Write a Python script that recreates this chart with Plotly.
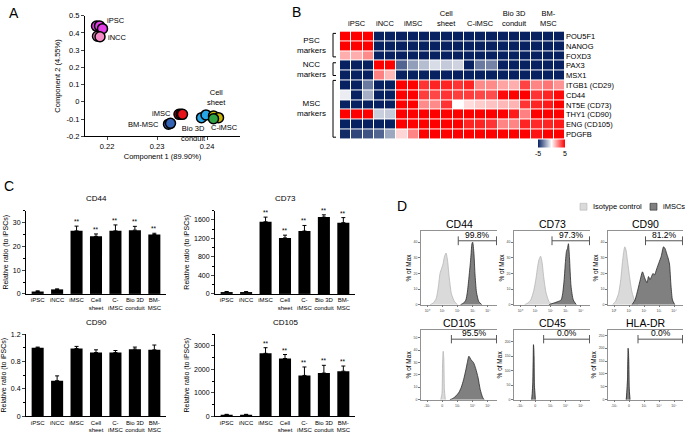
import plotly.graph_objects as go

W, H = 685, 437
FONT = "Liberation Sans, Arial, sans-serif"

# ---------------- Panel A : PCA ----------------
pc1_ipsc = [0.2179, 0.2185, 0.2191]
pc2_ipsc = [0.440, 0.441, 0.425]
pc1_incc = [0.2181, 0.2186]
pc2_incc = [0.381, 0.378]
pc1_imsc = [0.2344, 0.2348, 0.2351]
pc2_imsc = [-0.073, -0.072, -0.073]
pc1_bmmsc = [0.2323, 0.2327]
pc2_bmmsc = [-0.130, -0.125]
pc1_bio3d = [0.2389, 0.2398]
pc2_bio3d = [-0.092, -0.076]
pc1_sheet = [0.2413, 0.2423]
pc2_sheet = [-0.082, -0.092]
pc1_cimsc = [0.2413]
pc2_cimsc = [-0.098]

# ---------------- Panel B : heatmap ----------------
hm_genes = ["POU5F1", "NANOG", "FOXD3", "PAX3", "MSX1", "ITGB1 (CD29)", "CD44",
            "NT5E (CD73)", "THY1 (CD90)", "ENG (CD105)", "PDGFB"]
hm_groups = ["iPSC", "iNCC", "iMSC", "Cell<br>sheet", "C-iMSC", "Bio 3D<br>conduit", "BM-<br>MSC"]
hm_group_sizes = [3, 2, 3, 3, 3, 3, 3]
hm_pou5f1 = [5, 5, 5, -5, -5, -5, -5, -5, -5, -5, -5, -5, -5, -5, -5, -5, -5, -5, -5, -5]
hm_nanog = [5, 5, 5, -5, -5, -5, -5, -5, -5, -5, -5, -5, -5, -5, -5, -5, -5, -5, -5, -5]
hm_foxd3 = [1.6, 1.6, 2.3, -5, -5, -5, -5, -5, -5, -5, -5, -5, -5, -5, -5, -5, -5, -5, -5, -5]
hm_pax3 = [-5, -5, -5, 5, 5, -3.5, -2.2, -1.5, -0.8, -1.2, -1.0, -5, -3.0, -2.8, -5, -5, -5, -5, -5, -5]
hm_msx1 = [-5, -5, -5, 2.5, 1.4, -5, -5, -5, -5, -5, -5, -5, -5, -5, -5, -5, -5, -5, -5, -5]
hm_itgb1 = [-5, -5, -3, -5, -5, 5, 5, 4, 4.3, 4.3, 4, 4.3, 2.3, 2.3, 1.8, 1.6, 3.7, 2.4, 2.7, 2.1]
hm_cd44 = [-0.4, -5, -1.8, -5, -5, 5, 5, 3.8, 3.6, 4, 3.8, 3.8, 3.6, 3.5, 4.8, 5, 5, 4, 4.3, 4.8]
hm_nt5e = [-5, -5, -5, -5, -5, 5, 5, 2.3, 2.3, 4, 0, 0.7, 1.0, 1.2, 1.4, 1.5, 4, 4.3, 4.5, 5]
hm_thy1 = [5, 5, 5, -1.1, -1.2, 5, 5, 5, 5, 5, 5, 5, 5, 5, 5, 4.5, 2.5, 5, 5, 5]
hm_eng = [-5, -5, -5, -5, -5, 5, 5, 5, 5, 5, 5, 4.3, 4.3, 4, 2.4, 2.4, 4.3, 4.2, 4.3, 4.5]
hm_pdgfb = [-4.8, -4.2, -3.9, -3.5, -2.0, 0.8, 2.4, 5, 5, 5, 5, 5, 5, 5, 5, 5, 5, 4.6, 5, 5]

# ---------------- Panel C : bar charts ----------------
bar_cats = ["iPSC", "iNCC", "iMSC", "Cell<br>sheet", "C-<br>iMSC", "Bio 3D<br>conduit", "BM-<br>MSC"]
cd44_mean = [1.0, 1.9, 26.5, 24.2, 26.5, 26.8, 25.0]
cd44_err = [0.3, 0.2, 2.0, 1.0, 2.5, 1.6, 0.5]
cd73_mean = [40, 40, 1560, 1210, 1360, 1660, 1540]
cd73_err = [12, 10, 100, 60, 120, 50, 110]
cd90_mean = [1.00, 0.52, 0.99, 0.93, 0.93, 0.98, 0.97]
cd90_err = [0.01, 0.07, 0.03, 0.04, 0.03, 0.03, 0.07]
cd105_mean = [70, 70, 2680, 2460, 1740, 1840, 1920]
cd105_err = [15, 15, 240, 170, 360, 330, 220]

# ---------------- Panel D : flow histograms ----------------
iso_cd44_x = [0.6, 0.8, 1.0, 1.15, 1.25, 1.35, 1.45, 1.55, 1.65, 1.75, 1.85, 2.0, 2.2, 2.4]
iso_cd44_y = [0, 1, 4, 12, 20, 23, 26, 31, 33, 28, 18, 7, 2, 0]
ims_cd44_x = [2.6, 2.8, 2.95, 3.05, 3.15, 3.25, 3.3, 3.35, 3.4, 3.48, 3.55, 3.65, 3.8, 4.0]
ims_cd44_y = [0, 1, 3, 8, 17, 27, 33, 39, 40, 33, 20, 8, 2, 0]
iso_cd73_x = [0.7, 0.9, 1.1, 1.3, 1.45, 1.55, 1.65, 1.75, 1.85, 1.95, 2.1, 2.3, 2.5]
iso_cd73_y = [0, 1, 3, 9, 17, 24, 29, 31, 27, 18, 8, 2, 0]
ims_cd73_x = [2.3, 2.6, 2.9, 3.1, 3.2, 3.3, 3.38, 3.45, 3.52, 3.58, 3.65, 3.75, 3.9, 4.1]
ims_cd73_y = [0, 1, 2, 3, 7, 16, 27, 34, 36, 39, 30, 12, 3, 0]
iso_cd90_x = [0.3, 0.5, 0.7, 0.85, 0.95, 1.05, 1.12, 1.2, 1.3, 1.45, 1.6, 1.8, 2.0]
iso_cd90_y = [0, 2, 7, 16, 26, 34, 37, 35, 28, 17, 8, 2, 0]
ims_cd90_x = [1.6, 1.8, 2.0, 2.15, 2.3, 2.45, 2.6, 2.7, 2.8, 2.9, 3.0, 3.1, 3.25, 3.4, 3.55,
              3.7, 3.8, 3.9, 4.0, 4.1, 4.2, 4.3, 4.45]
ims_cd90_y = [0, 3, 10, 16, 21, 17, 14, 18, 16, 18, 20, 19, 23, 27, 31, 37, 36, 33, 30, 26, 12, 3, 0]
iso_cd105_x = [1.3, 1.38, 1.42, 1.46, 1.5, 1.54, 1.6]
iso_cd105_y = [0, 5, 30, 39, 33, 8, 0]
ims_cd105_x = [1.9, 2.1, 2.3, 2.5, 2.65, 2.8, 2.95, 3.05, 3.15, 3.3, 3.45, 3.6, 3.75, 3.9, 4.05, 4.15]
ims_cd105_y = [0, 1, 3, 6, 10, 16, 24, 30, 35, 32, 30, 25, 18, 8, 2, 0]
iso_cd45_x = [1.15, 1.22, 1.27, 1.31, 1.36, 1.42]
iso_cd45_y = [0, 20, 120, 150, 40, 0]
ims_cd45_x = [1.17, 1.24, 1.28, 1.31, 1.34, 1.4]
ims_cd45_y = [0, 60, 190, 170, 50, 0]
iso_hla_x = [1.2, 1.28, 1.33, 1.37, 1.42, 1.48]
iso_hla_y = [0, 30, 140, 160, 40, 0]
ims_hla_x = [1.22, 1.3, 1.34, 1.37, 1.41, 1.46]
ims_hla_y = [0, 80, 200, 180, 50, 0]
flow_titles = ["CD44", "CD73", "CD90", "CD105", "CD45", "HLA-DR"]
flow_gate_start = [2.45, 2.5, 2.5, 2.0, 1.95, 2.0]
flow_gate_label = ["99.8%", "97.3%", "81.2%", "95.5%", "0.0%", "0.0%"]
flow_ymax = [47, 47, 47, 56, 240, 270]
flow_yticks = [[0, 10, 20, 30, 40], [0, 10, 20, 30, 40], [0, 10, 20, 30, 40],
               [0, 10, 20, 30, 40, 50], [0, 50, 100, 150, 200], [0, 50, 100, 150, 200, 250]]


def xd(a, b):
    return [a / W, b / W]


def yd(top, bottom):
    return [1 - bottom / H, 1 - top / H]


def px(x):
    return x / W


def py(y):
    return 1 - y / H


fig = go.Figure()
annotations = []
shapes = []
layout = {}

# ====== Panel A ======
A_groups = [
    ("iPSC", pc1_ipsc, pc2_ipsc, "#e23fe6"),
    ("iNCC", pc1_incc, pc2_incc, "#f58cc8"),
    ("iMSC", pc1_imsc, pc2_imsc, "#e8121a"),
    ("BM-MSC", pc1_bmmsc, pc2_bmmsc, "#3563b4"),
    ("Bio 3D conduit", pc1_bio3d, pc2_bio3d, "#27a6e6"),
    ("Cell sheet", pc1_sheet, pc2_sheet, "#c9b300"),
    ("C-iMSC", pc1_cimsc, pc2_cimsc, "#2fa343"),
]
for name, xs, ys, col in A_groups:
    fig.add_trace(go.Scatter(x=xs, y=ys, mode="markers", xaxis="x", yaxis="y", hoverinfo="skip",
                             marker=dict(size=10, color=col, line=dict(color="black", width=1.5))))

layout["xaxis"] = dict(domain=xd(85, 240), range=[0.2156, 0.2466], tickvals=[0.22, 0.23, 0.24],
                       ticktext=["0.22", "0.23", "0.24"], showline=True, linecolor="black", linewidth=1,
                       ticks="outside", ticklen=3, showgrid=False, zeroline=False, anchor="y",
                       tickfont=dict(size=7.5), title=dict(text="Component 1 (89.90%)", font=dict(size=7.5), standoff=3))
ytv = [-0.2, -0.1, 0, 0.1, 0.2, 0.3, 0.4, 0.5]
layout["yaxis"] = dict(domain=yd(12, 135), range=[-0.2, 0.5], tickvals=ytv,
                       ticktext=["-0.2", "-0.1", "0", "0.1", "0.2", "0.3", "0.4", "0.5"],
                       showline=True, linecolor="black", linewidth=1, ticks="outside", ticklen=3,
                       showgrid=False, zeroline=False, anchor="x", tickfont=dict(size=7.5),
                       title=dict(text="Component 2 (4.55%)", font=dict(size=7.5), standoff=4))

lab = dict(xref="x", yref="y", showarrow=False, font=dict(size=7.5))
annotations += [
    dict(text="iPSC", x=pc1_ipsc[2], y=pc2_ipsc[2], xanchor="left", yanchor="middle", xshift=2, yshift=8, **lab),
    dict(text="iNCC", x=pc1_incc[1], y=pc2_incc[1], xanchor="left", yanchor="middle", xshift=6, yshift=-1, **lab),
    dict(text="iMSC", x=pc1_imsc[0], y=pc2_imsc[0], xanchor="right", yanchor="middle", xshift=-6, yshift=1, **lab),
    dict(text="BM-MSC", x=pc1_bmmsc[0], y=pc2_bmmsc[0], xanchor="right", yanchor="middle", xshift=-8, yshift=0, **lab),
    dict(text="Bio 3D<br>conduit", x=pc1_bio3d[0], y=pc2_bio3d[0], xanchor="center", yanchor="top", xshift=-8, yshift=-4, **lab),
    dict(text="Cell<br>sheet", x=pc1_sheet[0], y=pc2_sheet[0], xanchor="center", yanchor="bottom", xshift=3, yshift=7, **lab),
    dict(text="C-iMSC", x=pc1_cimsc[0], y=pc2_cimsc[0], xanchor="left", yanchor="middle", xshift=-5, yshift=-9, **lab),
]

# ====== Panel B ======
hm_z = [hm_pou5f1, hm_nanog, hm_foxd3, hm_pax3, hm_msx1, hm_itgb1, hm_cd44, hm_nt5e, hm_thy1, hm_eng, hm_pdgfb]
ncol = len(hm_pou5f1)
fig.add_trace(go.Heatmap(
    z=hm_z, x=list(range(ncol)), y=hm_genes, xaxis="x2", yaxis="y2", zmin=-5, zmax=5,
    colorscale=[[0, "#082261"], [0.5, "#ffffff"], [1, "#ff0000"]], xgap=1, ygap=1, hoverinfo="skip",
    colorbar=dict(orientation="h", x=px(551.5), xanchor="center", y=py(146), yanchor="middle",
                  len=27, lenmode="pixels", thickness=8, thicknessmode="pixels",
                  tickvals=[-5, 5], ticktext=["-5", "5"], ticks="", tickfont=dict(size=7),
                  outlinewidth=0, xpad=0, ypad=0)))
layout["xaxis2"] = dict(domain=xd(340, 565), range=[-0.5, ncol - 0.5], showticklabels=False, ticks="",
                        showgrid=False, zeroline=False, showline=False, anchor="y2")
layout["yaxis2"] = dict(domain=yd(28, 138), autorange="reversed", side="right", ticks="", showgrid=False,
                        zeroline=False, showline=False, anchor="x2", tickfont=dict(size=7.5))
start = 0
for g, n in zip(hm_groups, hm_group_sizes):
    annotations.append(dict(text=g, x=start + (n - 1) / 2, y=py(26.5), xref="x2", yref="paper",
                            xanchor="center", yanchor="bottom", showarrow=False, font=dict(size=7.5)))
    start += n
brackets = [("PSC<br>markers", 30, 54), ("NCC<br>markers", 60, 73), ("MSC<br>markers", 78, 136)]
for text, t, b in brackets:
    annotations.append(dict(text=text, x=px(328), y=py((t + b) / 2), xref="paper", yref="paper",
                            xanchor="right", yanchor="middle", showarrow=False, font=dict(size=8)))
    for seg in [(333, t, 333, b), (333, t, 336, t), (333, b, 336, b)]:
        shapes.append(dict(type="line", xref="paper", yref="paper", x0=px(seg[0]), y0=py(seg[1]),
                           x1=px(seg[2]), y1=py(seg[3]), line=dict(color="black", width=1)))

# ====== Panel C ======
bar_specs = [
    ("CD44", cd44_mean, cd44_err, 3, (26, 166), (211, 296), [0, 35], [0, 10, 20, 30], 5, True),
    ("CD73", cd73_mean, cd73_err, 4, (215, 355), (211, 296), [0, 1800], [0, 400, 800, 1200, 1600], 200, True),
    ("CD90", cd90_mean, cd90_err, 5, (26, 166), (337, 421), [0, 1.2], [0, 0.4, 0.8, 1.2], 0.2, False),
    ("CD105", cd105_mean, cd105_err, 6, (215, 355), (337, 421), [0, 3500], [0, 1000, 2000, 3000], 500, True),
]
for title, mean, err, k, xr, yr, rng, tv, minor, stars in bar_specs:
    xs = list(range(len(bar_cats)))
    fig.add_trace(go.Bar(x=xs, y=mean, xaxis="x%d" % k, yaxis="y%d" % k, width=0.62,
                         marker=dict(color="black", line=dict(width=0)), hoverinfo="skip",
                         error_y=dict(type="data", array=err, arrayminus=[0] * len(err), symmetric=False,
                                      thickness=1, width=2, color="black")))
    layout["xaxis%d" % k] = dict(domain=xd(*xr), range=[-0.6, 6.6], tickvals=xs, ticktext=bar_cats,
                                 tickangle=0, showline=True, linecolor="black", linewidth=1, ticks="",
                                 showgrid=False, zeroline=False, anchor="y%d" % k, tickfont=dict(size=6))
    layout["yaxis%d" % k] = dict(domain=yd(*yr), range=rng, tickvals=tv, ticktext=[("%g" % v) for v in tv],
                                 showline=True, linecolor="black", linewidth=1, ticks="outside", ticklen=3,
                                 showgrid=False, zeroline=False, anchor="x%d" % k, tickfont=dict(size=7),
                                 minor=dict(dtick=minor, ticklen=2, ticks="outside", tickcolor="black"),
                                 title=dict(text="Relative ratio (to iPSCs)", font=dict(size=7), standoff=3))
    annotations.append(dict(text=title, x=px((xr[0] + xr[1]) / 2), y=py(yr[0] - 12), xref="paper", yref="paper",
                            xanchor="center", yanchor="middle", showarrow=False, font=dict(size=8)))
    if stars:
        for i in range(2, 7):
            annotations.append(dict(text="**", x=i, y=mean[i] + err[i], xref="x%d" % k, yref="y%d" % k,
                                    xanchor="center", yanchor="bottom", yshift=-1, showarrow=False,
                                    font=dict(size=6.5)))

# ====== Panel D ======
flow_data = [
    (iso_cd44_x, iso_cd44_y, ims_cd44_x, ims_cd44_y),
    (iso_cd73_x, iso_cd73_y, ims_cd73_x, ims_cd73_y),
    (iso_cd90_x, iso_cd90_y, ims_cd90_x, ims_cd90_y),
    (iso_cd105_x, iso_cd105_y, ims_cd105_x, ims_cd105_y),
    (iso_cd45_x, iso_cd45_y, ims_cd45_x, ims_cd45_y),
    (iso_hla_x, iso_hla_y, ims_hla_x, ims_hla_y),
]
flow_cols = [(421, 497), (514, 590), (608, 683)]
flow_rows = [(232, 307), (333, 404)]
xt_row = [["10⁰", "10¹", "10²", "10³", "10⁴"], ["-10³", "0", "10³", "10⁴", "10⁵"]]
for i, (ix, iy, mx, my) in enumerate(flow_data):
    k = 7 + i
    r, c = divmod(i, 3)
    xa, ya = "x%d" % k, "y%d" % k
    fig.add_trace(go.Scatter(x=ix, y=iy, xaxis=xa, yaxis=ya, mode="lines", fill="tozeroy",
                             fillcolor="#dadada", line=dict(color="#b5b5b5", width=0.8, shape="spline", smoothing=0.6),
                             hoverinfo="skip"))
    fig.add_trace(go.Scatter(x=mx, y=my, xaxis=xa, yaxis=ya, mode="lines", fill="tozeroy",
                             fillcolor="#808080", line=dict(color="#2a2a2a", width=0.8, shape="spline", smoothing=0.6),
                             hoverinfo="skip"))
    layout["xaxis%d" % k] = dict(domain=xd(*flow_cols[c]), range=[0, 5], tickvals=[0.4, 1.4, 2.4, 3.4, 4.4],
                                 ticktext=xt_row[r], showline=True, mirror=True, linecolor="#777", linewidth=0.8,
                                 ticks="outside", ticklen=2, tickcolor="#777", showgrid=False, zeroline=False,
                                 anchor=ya, tickfont=dict(size=3.5, color="#444"))
    layout["yaxis%d" % k] = dict(domain=yd(*flow_rows[r]), range=[0, flow_ymax[i]], tickvals=flow_yticks[i],
                                 showline=True, linecolor="#777", linewidth=0.8, ticks="outside", ticklen=2,
                                 tickcolor="#777", showgrid=False, zeroline=False, anchor=xa,
                                 tickfont=dict(size=3.5, color="#444"),
                                 title=dict(text="% of Max", font=dict(size=6.5), standoff=1))
    cx = (flow_cols[c][0] + flow_cols[c][1]) / 2
    annotations.append(dict(text=flow_titles[i], x=px(cx), y=py(flow_rows[r][0] - 7), xref="paper", yref="paper",
                            xanchor="center", yanchor="middle", showarrow=False, font=dict(size=10.5)))
    g0 = flow_gate_start[i]
    gy = 0.87
    shapes.append(dict(type="line", xref=xa, yref="%s domain" % ya, x0=g0, x1=4.97, y0=gy, y1=gy,
                       line=dict(color="#555", width=1)))
    for gx in (g0, 4.97):
        shapes.append(dict(type="line", xref=xa, yref="%s domain" % ya, x0=gx, x1=gx, y0=gy - 0.06, y1=gy + 0.06,
                           line=dict(color="#555", width=1)))
    annotations.append(dict(text=flow_gate_label[i], x=(g0 + 5) / 2, y=gy, xref=xa, yref="%s domain" % ya,
                            xanchor="center", yanchor="bottom", yshift=-1, showarrow=False, font=dict(size=8.5)))

# legend for D
shapes.append(dict(type="rect", xref="paper", yref="paper", x0=px(580), x1=px(587), y0=py(210.5), y1=py(203.5),
                   fillcolor="#dadada", line=dict(color="#b5b5b5", width=0.6)))
shapes.append(dict(type="rect", xref="paper", yref="paper", x0=px(650), x1=px(657), y0=py(210.5), y1=py(203.5),
                   fillcolor="#808080", line=dict(color="#2a2a2a", width=0.6)))
annotations.append(dict(text="Isotype control", x=px(591), y=py(207), xref="paper", yref="paper",
                        xanchor="left", yanchor="middle", showarrow=False, font=dict(size=7.5)))
annotations.append(dict(text="iMSCs", x=px(661), y=py(207), xref="paper", yref="paper",
                        xanchor="left", yanchor="middle", showarrow=False, font=dict(size=7.5)))

# panel letters
for letter, lx, ly in [("A", 14, 9), ("B", 296, 8), ("C", 9, 186), ("D", 402, 206)]:
    annotations.append(dict(text=letter, x=px(lx), y=py(ly), xref="paper", yref="paper", xanchor="center",
                            yanchor="middle", showarrow=False, font=dict(size=14)))

fig.update_layout(width=W, height=H, autosize=False, margin=dict(l=0, r=0, t=0, b=0),
                  paper_bgcolor="white", plot_bgcolor="white", showlegend=False,
                  font=dict(family=FONT, color="black"), annotations=annotations, shapes=shapes,
                  bargap=0.3, **layout)
fig.write_html("out.html", config={"displayModeBar": False, "staticPlot": True},
               post_script="document.body.style.margin='0px';document.body.style.overflow='hidden';")
